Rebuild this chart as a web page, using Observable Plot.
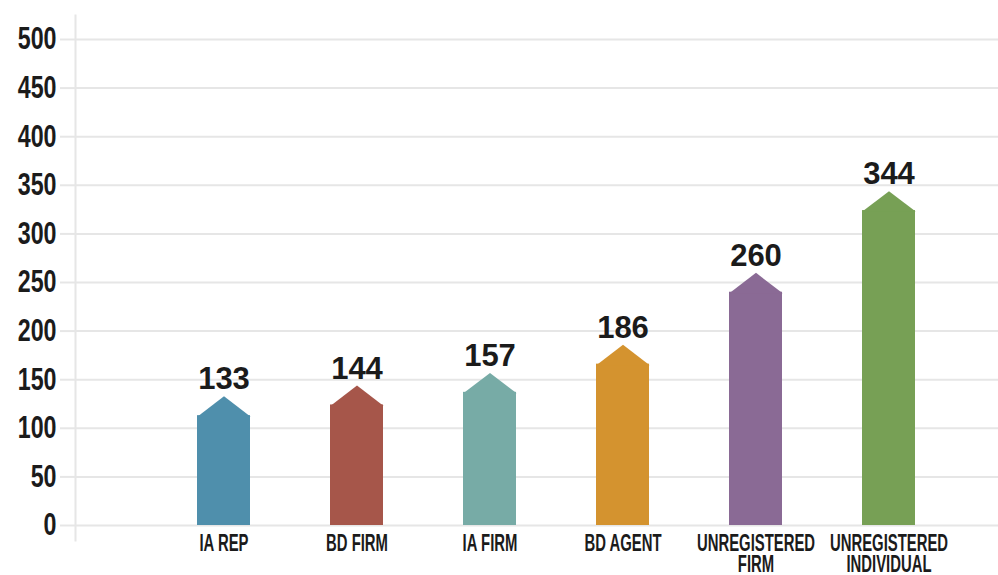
<!DOCTYPE html>
<html>
<head>
<meta charset="utf-8">
<script src="https://cdn.jsdelivr.net/npm/d3@7"></script>
<script src="https://cdn.jsdelivr.net/npm/@observablehq/plot@0.6"></script>
<style>
  html, body { margin: 0; padding: 0; background: #ffffff; }
  #chart { width: 998px; height: 575px; }
</style>
</head>
<body>
<div id="chart"></div>
<script>
// ---- data ----
const categories = ["IA REP", "BD FIRM", "IA FIRM", "BD AGENT", "UNREGISTERED\nFIRM", "UNREGISTERED\nINDIVIDUAL"];
const values = [133, 144, 157, 186, 260, 344];
const colors = ["#4f8fac", "#a6564a", "#77aba6", "#d4932f", "#8a6a95", "#77a055"];
const yTicks = [0, 50, 100, 150, 200, 250, 300, 350, 400, 450, 500];

const data = categories.map((c, i) => ({cat: c, value: values[i]}));

// ---- layout ----
const W = 998, H = 575;
const mTop = 39, mBottom = 50, mLeft = 75, mRight = 0;
const yMax = 500;
const pxPerUnit = (H - mTop - mBottom) / yMax;
const tipUnits = 20;                 // height of the arrow point, in data units
const tipPx = tipUnits * pxPerUnit;
const xRange = [196, 916];
const padInner = 0.6;
const step = (xRange[1] - xRange[0]) / (categories.length - padInner);
const halfBand = step * (1 - padInner) / 2;

// custom symbol: arrow point (apex at the dot position)
const arrowTip = {
  draw(context) {
    context.moveTo(0, 0);
    context.lineTo(halfBand, tipPx + 1);
    context.lineTo(-halfBand, tipPx + 1);
    context.closePath();
  }
};

const gridColor = "#e6e6e6";
const textColor = "#1b1b1b";
const font = "'Liberation Sans', Arial, sans-serif";

const plot = Plot.plot({
  width: W,
  height: H,
  marginTop: mTop,
  marginBottom: mBottom,
  marginLeft: mLeft,
  marginRight: mRight,
  style: {fontFamily: font, background: "#ffffff", color: textColor},
  x: {type: "band", domain: categories, range: xRange, paddingInner: padInner, paddingOuter: 0, align: 0.5, label: null},
  y: {domain: [0, yMax], label: null},
  color: {domain: categories, range: colors},
  marks: [
    Plot.gridY(yTicks, {stroke: gridColor, strokeOpacity: 1, strokeWidth: 2}),
    Plot.frame({anchor: "left", stroke: gridColor, strokeOpacity: 1, strokeWidth: 2, insetTop: -24, insetBottom: -15}),
    Plot.axisY(yTicks, {
      tickSize: 15, tickPadding: 4, stroke: gridColor, strokeWidth: 2,
      fill: textColor, fontSize: 31, fontWeight: "bold", label: null
    }),
    Plot.axisX({
      tickSize: 0, tickPadding: 11, fill: textColor, fontSize: 24, fontWeight: "bold",
      lineHeight: 0.875, label: null
    }),
    Plot.barY(data, {x: "cat", y1: 0, y2: d => d.value - tipUnits, fill: "cat"}),
    Plot.dot(data, {x: "cat", y: "value", symbol: arrowTip, r: 5, fill: "cat", stroke: null}),
    Plot.text(data, {
      x: "cat", y: "value", text: d => String(d.value), dy: -7, lineAnchor: "bottom",
      fontSize: 31, fontWeight: "bold", fill: textColor, ariaLabel: "values"
    })
  ]
});

document.getElementById("chart").appendChild(plot);

// condense text horizontally (narrow display typeface look)
const svgNS = "http://www.w3.org/2000/svg";
function condense(selector, k, origin) {
  plot.querySelectorAll(selector).forEach(t => {
    const g = document.createElementNS(svgNS, "g");
    t.parentNode.insertBefore(g, t);
    g.appendChild(t);
    g.style.transformBox = "fill-box";
    g.style.transformOrigin = origin;
    g.style.transform = `scaleX(${k})`;
  });
}
condense("g[aria-label='y-axis tick label'] text", 0.75, "right center");
condense("g[aria-label='values'] text", 0.75, "center");
condense("g[aria-label='x-axis tick label'] text", 0.62, "center");
</script>
</body>
</html>
